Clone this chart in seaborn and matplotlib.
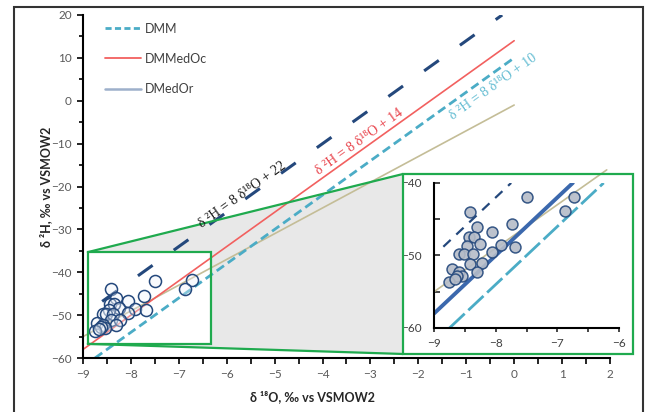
import numpy as np
import pandas as pd
import seaborn as sns
import matplotlib.pyplot as plt
from matplotlib.patches import Rectangle, Polygon
from matplotlib.lines import Line2D
from matplotlib.ticker import MultipleLocator

# samples
d18o = [-7.50, -6.73, -6.87, -8.42, -7.73, -8.31, -8.06, -8.43, -8.36, -8.25,
        -7.91, -7.69, -8.46, -8.06, -8.59, -8.52, -8.37, -8.42, -8.22, -8.71,
        -8.31, -8.59, -8.55, -8.63, -8.76, -8.66]
d2h = [-42.0, -41.9, -43.9, -44.0, -45.6, -46.1, -46.8, -47.5, -47.5, -48.4,
       -48.5, -48.9, -48.7, -49.5, -49.8, -49.8, -49.8, -51.2, -51.1, -51.9,
       -52.3, -52.3, -52.9, -52.8, -53.6, -53.3]

# water lines, end points
mwl22_x = [-8.6, -0.25]
mwl22_y = [-46.8, 20.0]
medoc_x = [-9.0, 0.0]
medoc_y = [-58.0, 14.0]
dmm_x = [-8.75, 0.0]
dmm_y = [-60.0, 10.0]
medor_x = [-9.0, 0.0]
medor_y = [-55.0, -1.0]

# same lines as drawn in the zoom panel
in22_x = [-8.85, -7.75]
in22_y = [-48.8, -40.0]
in14_x = [-9.0, -6.75]
in14_y = [-58.0, -40.0]
in10_x = [-8.75, -6.25]
in10_y = [-60.0, -40.0]
inor_x = [-9.0, -6.2]
inor_y = [-55.0, -38.2]

legend_labels = ["DMM", "DMMedOc", "DMedOr"]
eq_labels = ["δ ²H = 8 δ¹⁸O + 22", "δ ²H = 8 δ¹⁸O + 14", "δ ²H = 8 δ¹⁸O + 10"]

zoom_box = (-8.9, -56.7, 2.57, 21.4)  # x, y, w, h of the zoomed region

NAVY = "#24487c"
RED = "#f2605f"
TEAL = "#4bacc6"
TAN = "#c4bd97"
BLUE = "#3b68ad"
GREEN = "#1faa4e"
GREY_TXT = "#595959"

sns.set_style("ticks")
plt.rcParams['font.family'] = ['Lato', 'DejaVu Sans']
SERIF = ['Liberation Serif', 'DejaVu Serif']

fig = plt.figure(figsize=(6.45, 4.12), dpi=100)
ax = fig.add_axes([0.1287, 0.131, 0.817, 0.8326])

ax.set_xlim(-9, 2)
ax.set_ylim(-60, 20)

sns.lineplot(x=medor_x, y=medor_y, ax=ax, color=TAN, lw=1.2, zorder=2)
sns.lineplot(x=medoc_x, y=medoc_y, ax=ax, color=RED, lw=1.2, zorder=2)
sns.lineplot(x=dmm_x, y=dmm_y, ax=ax, color=TEAL, lw=2.0,
             linestyle=(0, (3.2, 1.7)), zorder=2)
sns.lineplot(x=mwl22_x, y=mwl22_y, ax=ax, color=NAVY, lw=2.2,
             linestyle=(0, (5.9, 8.5)), zorder=2)
sns.scatterplot(x=d18o, y=d2h, ax=ax, s=75, color=(0.93, 0.95, 0.98, 0.35),
                edgecolor=NAVY, linewidth=1.1, zorder=3)

# zoom decoration: grey wedge, white source box, green frame
fig.canvas.draw()
to_fig = ax.transData + fig.transFigure.inverted()
bx, by, bw, bh = zoom_box
s_tl = to_fig.transform((bx, by + bh))
s_bl = to_fig.transform((bx, by))
frame = (0.6248, 0.1408, 0.3566, 0.4369)
f_tl = (frame[0], frame[1] + frame[3])
f_bl = (frame[0], frame[1])

ax.add_patch(Polygon([s_tl, f_tl, f_bl, s_bl], closed=True, transform=fig.transFigure,
                     facecolor="#e8e8e8", edgecolor="none", zorder=0.5, clip_on=False))
ax.add_patch(Rectangle((bx, by), bw, bh, facecolor="white", edgecolor="none", zorder=0.8))
ax.add_patch(Rectangle((bx, by), bw, bh, facecolor="none", edgecolor=GREEN, lw=1.6, zorder=4))
for p0, p1 in [(s_tl, f_tl), (s_bl, f_bl)]:
    ax.add_line(Line2D([p0[0], p1[0]], [p0[1], p1[1]], transform=fig.transFigure,
                       color=GREEN, lw=1.6, zorder=4, clip_on=False))

# equation labels along the lines
ax.text(-5.68, -22.0, eq_labels[0], family=SERIF, fontsize=10, color="#1a1a1a",
        rotation=np.degrees(np.arctan(8)), transform_rotates_text=True,
        rotation_mode='anchor', ha='center', va='center', zorder=5)
ax.text(-3.24, -9.6, eq_labels[1], family=SERIF, fontsize=10, color="#e8424a",
        rotation=np.degrees(np.arctan(8)), transform_rotates_text=True,
        rotation_mode='anchor', ha='center', va='center', zorder=5)
ax.text(-0.44, 3.2, eq_labels[2], family=SERIF, fontsize=10, color="#62bcd2",
        rotation=np.degrees(np.arctan(8)), transform_rotates_text=True,
        rotation_mode='anchor', ha='center', va='center', zorder=5)

# axes styling
sns.despine(ax=ax)
for side in ["left", "bottom"]:
    ax.spines[side].set_linewidth(1.5)
    ax.spines[side].set_color("black")
ax.xaxis.set_major_locator(MultipleLocator(1))
ax.xaxis.set_minor_locator(MultipleLocator(0.5))
ax.yaxis.set_major_locator(MultipleLocator(10))
ax.yaxis.set_minor_locator(MultipleLocator(5))
ax.tick_params(which='both', direction='out', color='black', width=1.2)
ax.tick_params(which='major', length=4, labelsize=8.5, labelcolor=GREY_TXT, pad=4)
ax.tick_params(which='minor', length=3)
ax.tick_params(axis='x', which='minor', length=4)

ax.set_xlabel("δ ¹⁸O, ‰ vs VSMOW2", fontsize=9, fontweight='bold', color="#262626")
ax.set_ylabel("δ ²H, ‰ vs VSMOW2", fontsize=9, fontweight='bold', color="#262626")
ax.xaxis.set_label_coords(0.436, -0.095)
ax.yaxis.set_label_coords(-0.058, 0.5)

handles = [Line2D([], [], color=TEAL, lw=2.0, linestyle=(0, (2.2, 1.2))),
           Line2D([], [], color=RED, lw=1.3),
           Line2D([], [], color="#9db0cb", lw=1.8)]
leg = fig.legend(handles, legend_labels, loc='upper left', bbox_to_anchor=(0.163, 0.945),
                 frameon=False, fontsize=9, labelspacing=1.45, handlelength=2.9,
                 handletextpad=0.3, borderpad=0, borderaxespad=0)
for t in leg.get_texts():
    t.set_color("#404040")

# zoom panel
ins = fig.add_axes([0.673, 0.204, 0.2868, 0.352])
ins.set_xlim(-9, -6)
ins.set_ylim(-60, -40)
sns.lineplot(x=inor_x, y=inor_y, ax=ins, color=TAN, lw=1.2, zorder=2)
sns.lineplot(x=in10_x, y=in10_y, ax=ins, color=TEAL, lw=2.0,
             linestyle=(0, (7.5, 1.8)), zorder=2)
sns.lineplot(x=in14_x, y=in14_y, ax=ins, color=BLUE, lw=2.8, zorder=2)
sns.lineplot(x=in22_x, y=in22_y, ax=ins, color=NAVY, lw=1.6,
             linestyle=(0, (4.5, 3.5)), zorder=2)
for l in ins.lines[:1]:
    l.set_clip_on(False)
sns.scatterplot(x=d18o, y=d2h, ax=ins, s=62, color="#b5bcc8", alpha=0.9,
                edgecolor=NAVY, linewidth=1.1, zorder=3)
sns.despine(ax=ins)
for side in ["left", "bottom"]:
    ins.spines[side].set_linewidth(1.5)
    ins.spines[side].set_color("black")
ins.xaxis.set_major_locator(MultipleLocator(1))
ins.xaxis.set_minor_locator(MultipleLocator(0.5))
ins.yaxis.set_major_locator(MultipleLocator(10))
ins.yaxis.set_minor_locator(MultipleLocator(5))
ins.tick_params(axis='x', which='both', direction='out', length=3, width=1.2,
                labelsize=8.5, labelcolor="#404040", pad=4)
ins.tick_params(axis='y', which='both', direction='in', length=4, width=1.2,
                labelsize=8.5, labelcolor="#404040", pad=9)
ins.set_xlabel("")
ins.set_ylabel("")

fig.add_artist(Rectangle(frame[:2], frame[2], frame[3], transform=fig.transFigure,
                         facecolor="none", edgecolor=GREEN, lw=1.6, zorder=5))
# outer border
fig.add_artist(Rectangle((0.0217, -0.05), 0.9745, 1.033, transform=fig.transFigure,
                         facecolor="none", edgecolor="#333333", lw=1.5, zorder=6))

fig.savefig("out.png", dpi=100)
